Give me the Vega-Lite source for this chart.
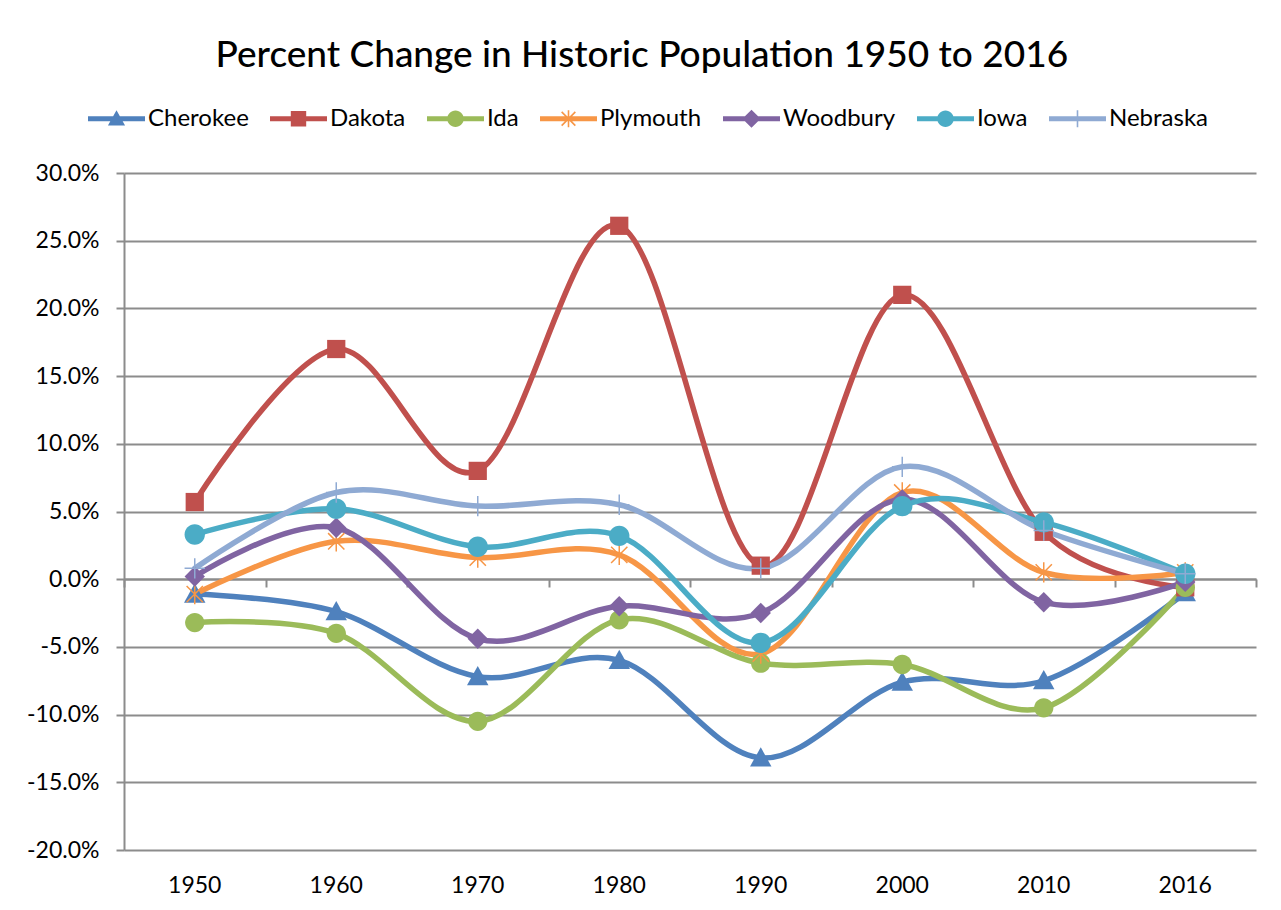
{
  "$schema": "https://vega.github.io/schema/vega-lite/v6.json",
  "width": 1132,
  "height": 677,
  "autosize": {"type": "none"},
  "padding": {"left": 124, "top": 173, "right": 25, "bottom": 60},
  "background": "white",
  "title": {"text": "Percent Change in Historic Population 1950 to 2016", "font": "Lato", "fontSize": 37, "fontWeight": 500, "color": "#000000", "anchor": "middle", "frame": "bounds", "offset": 15},
  "config": {"view": {"stroke": null}},
  "data": {"values": [
    {"year": "1950", "series": "Cherokee", "pct": -0.011},
    {"year": "1960", "series": "Cherokee", "pct": -0.024},
    {"year": "1970", "series": "Cherokee", "pct": -0.072},
    {"year": "1980", "series": "Cherokee", "pct": -0.060},
    {"year": "1990", "series": "Cherokee", "pct": -0.132},
    {"year": "2000", "series": "Cherokee", "pct": -0.076},
    {"year": "2010", "series": "Cherokee", "pct": -0.075},
    {"year": "2016", "series": "Cherokee", "pct": -0.010},
    {"year": "1950", "series": "Dakota", "pct": 0.057},
    {"year": "1960", "series": "Dakota", "pct": 0.170},
    {"year": "1970", "series": "Dakota", "pct": 0.080},
    {"year": "1980", "series": "Dakota", "pct": 0.261},
    {"year": "1990", "series": "Dakota", "pct": 0.010},
    {"year": "2000", "series": "Dakota", "pct": 0.210},
    {"year": "2010", "series": "Dakota", "pct": 0.035},
    {"year": "2016", "series": "Dakota", "pct": -0.006},
    {"year": "1950", "series": "Ida", "pct": -0.032},
    {"year": "1960", "series": "Ida", "pct": -0.040},
    {"year": "1970", "series": "Ida", "pct": -0.105},
    {"year": "1980", "series": "Ida", "pct": -0.030},
    {"year": "1990", "series": "Ida", "pct": -0.062},
    {"year": "2000", "series": "Ida", "pct": -0.063},
    {"year": "2010", "series": "Ida", "pct": -0.095},
    {"year": "2016", "series": "Ida", "pct": -0.006},
    {"year": "1950", "series": "Plymouth", "pct": -0.011},
    {"year": "1960", "series": "Plymouth", "pct": 0.028},
    {"year": "1970", "series": "Plymouth", "pct": 0.016},
    {"year": "1980", "series": "Plymouth", "pct": 0.018},
    {"year": "1990", "series": "Plymouth", "pct": -0.055},
    {"year": "2000", "series": "Plymouth", "pct": 0.064},
    {"year": "2010", "series": "Plymouth", "pct": 0.005},
    {"year": "2016", "series": "Plymouth", "pct": 0.005},
    {"year": "1950", "series": "Woodbury", "pct": 0.002},
    {"year": "1960", "series": "Woodbury", "pct": 0.038},
    {"year": "1970", "series": "Woodbury", "pct": -0.044},
    {"year": "1980", "series": "Woodbury", "pct": -0.020},
    {"year": "1990", "series": "Woodbury", "pct": -0.025},
    {"year": "2000", "series": "Woodbury", "pct": 0.059},
    {"year": "2010", "series": "Woodbury", "pct": -0.017},
    {"year": "2016", "series": "Woodbury", "pct": -0.002},
    {"year": "1950", "series": "Iowa", "pct": 0.033},
    {"year": "1960", "series": "Iowa", "pct": 0.052},
    {"year": "1970", "series": "Iowa", "pct": 0.024},
    {"year": "1980", "series": "Iowa", "pct": 0.032},
    {"year": "1990", "series": "Iowa", "pct": -0.047},
    {"year": "2000", "series": "Iowa", "pct": 0.054},
    {"year": "2010", "series": "Iowa", "pct": 0.042},
    {"year": "2016", "series": "Iowa", "pct": 0.004},
    {"year": "1950", "series": "Nebraska", "pct": 0.008},
    {"year": "1960", "series": "Nebraska", "pct": 0.064},
    {"year": "1970", "series": "Nebraska", "pct": 0.054},
    {"year": "1980", "series": "Nebraska", "pct": 0.055},
    {"year": "1990", "series": "Nebraska", "pct": 0.008},
    {"year": "2000", "series": "Nebraska", "pct": 0.083},
    {"year": "2010", "series": "Nebraska", "pct": 0.036},
    {"year": "2016", "series": "Nebraska", "pct": 0.004}
  ]},
  "resolve": {"scale": {"color": "independent", "shape": "independent"}, "axis": {"x": "independent"}},
  "layer": [
    {
      "mark": {"type": "line", "interpolate": "cardinal", "strokeWidth": 5.5, "strokeCap": "round", "strokeJoin": "round"},
      "encoding": {
        "x": {"field": "year", "type": "ordinal", "sort": ["1950","1960","1970","1980","1990","2000","2010","2016"],
              "scale": {"type": "band", "paddingInner": 0, "paddingOuter": 0},
              "axis": {"orient": "bottom", "title": null, "ticks": false, "tickSize": 0, "domain": false, "grid": false, "labelAngle": 0, "labelPadding": 24, "labelFont": "Lato", "labelFontSize": 23, "labelColor": "#000000"}},
        "y": {"field": "pct", "type": "quantitative", "scale": {"domain": [-0.2, 0.3], "nice": false, "zero": false},
              "axis": {"title": null, "values": [-0.2,-0.15,-0.1,-0.05,0,0.05,0.1,0.15,0.2,0.25,0.3],
                       "labelExpr": "replace(format(datum.value, '.1%'), '\u2212', '-')",
                       "grid": true, "gridColor": "#8C8C8C", "gridWidth": 2,
                       "domainColor": "#8C8C8C", "domainWidth": 2,
                       "tickColor": "#8C8C8C", "tickWidth": 2, "tickSize": 8,
                       "labelPadding": 17, "labelFont": "Lato", "labelFontSize": 23, "labelColor": "#000000"}},
        "color": {"field": "series", "type": "nominal",
                  "scale": {"domain": ["Cherokee","Dakota","Ida","Plymouth","Woodbury","Iowa","Nebraska"],
                            "range": ["#4F81BD","#C0504D","#9BBB59","#F79646","#8064A2","#4BACC6","#8FAAD3"]},
                  "legend": null}
      }
    },
    {
      "mark": {"type": "point", "filled": true, "size": 460, "opacity": 1, "strokeWidth": 0},
      "encoding": {
        "x": {"field": "year", "type": "ordinal", "sort": ["1950","1960","1970","1980","1990","2000","2010","2016"],
              "axis": {"orient": "bottom", "title": null, "labels": false, "ticks": true, "tickBand": "extent", "tickSize": 8, "tickWidth": 2, "tickColor": "#8C8C8C", "domain": true, "domainColor": "#8C8C8C", "domainWidth": 2, "grid": false, "offset": -271}},
        "y": {"field": "pct", "type": "quantitative",
              "axis": {"title": null, "values": [-0.2,-0.15,-0.1,-0.05,0,0.05,0.1,0.15,0.2,0.25,0.3],
                       "labelExpr": "replace(format(datum.value, '.1%'), '\u2212', '-')",
                       "grid": true, "gridColor": "#8C8C8C", "gridWidth": 2,
                       "domainColor": "#8C8C8C", "domainWidth": 2,
                       "tickColor": "#8C8C8C", "tickWidth": 2, "tickSize": 8,
                       "labelPadding": 17, "labelFont": "Lato", "labelFontSize": 23, "labelColor": "#000000"}},
        "color": {"field": "series", "type": "nominal",
                  "scale": {"domain": ["Cherokee","Dakota","Ida","Plymouth","Woodbury","Iowa","Nebraska"],
                            "range": ["#4F81BD","#C0504D","#9BBB59","#F79646","#8064A2","#4BACC6","#8FAAD3"]},
                  "legend": null},
        "shape": {"field": "series", "type": "nominal",
                  "scale": {"domain": ["Cherokee","Dakota","Ida","Plymouth","Woodbury","Iowa","Nebraska"],
                            "range": [
                              "M0,-1L1,0.8L-1,0.8Z",
                              "M-0.85,-0.85H0.85V0.85H-0.85Z",
                              "M-0.9,0A0.9,0.9,0,1,1,0.9,0A0.9,0.9,0,1,1,-0.9,0Z",
                              "M-0.07,-0.95H0.07V0.95H-0.07Z M-0.71,-0.81L0.81,0.71L0.71,0.81L-0.81,-0.71Z M0.71,-0.81L0.81,-0.71L-0.71,0.81L-0.81,0.71Z",
                              "M0,-0.95L0.95,0L0,0.95L-0.95,0Z",
                              "M-0.95,0A0.95,0.95,0,1,1,0.95,0A0.95,0.95,0,1,1,-0.95,0Z",
                              "M-0.07,-0.95H0.07V0.95H-0.07Z M-0.95,-0.07H0.95V0.07H-0.95Z"
                            ]},
                  "legend": null}
      }
    },
    {
      "mark": {"type": "point", "filled": true, "opacity": 0},
      "encoding": {
        "x": {"field": "year", "type": "ordinal", "sort": ["1950","1960","1970","1980","1990","2000","2010","2016"], "axis": null},
        "y": {"field": "pct", "type": "quantitative",
              "axis": {"title": null, "values": [-0.2,-0.15,-0.1,-0.05,0,0.05,0.1,0.15,0.2,0.25,0.3],
                       "labelExpr": "replace(format(datum.value, '.1%'), '\u2212', '-')",
                       "grid": true, "gridColor": "#8C8C8C", "gridWidth": 2,
                       "domainColor": "#8C8C8C", "domainWidth": 2,
                       "tickColor": "#8C8C8C", "tickWidth": 2, "tickSize": 8,
                       "labelPadding": 17, "labelFont": "Lato", "labelFontSize": 23, "labelColor": "#000000"}},
        "color": {"field": "series", "type": "nominal",
                  "scale": {"domain": ["Cherokee","Dakota","Ida","Plymouth","Woodbury","Iowa","Nebraska"],
                            "range": ["#4F81BD","#C0504D","#9BBB59","#F79646","#8064A2","#4BACC6","#8FAAD3"]},
                  "legend": {"title": null, "orient": "none", "legendX": -36, "legendY": -83, "direction": "horizontal",
                             "labelFont": "Lato", "labelFontSize": 24, "labelColor": "#000000", "labelOffset": 3,
                             "symbolSize": 3249, "symbolStrokeWidth": 0, "columnPadding": 21,
                             "encode": {"symbols": {"update": {"opacity": {"value": 1}}}}}},
        "shape": {"field": "series", "type": "nominal",
                  "scale": {"domain": ["Cherokee","Dakota","Ida","Plymouth","Woodbury","Iowa","Nebraska"],
                            "range": [
                              "M-1,-0.088H1V0.088H-1Z M0,-0.3L0.3,0.24L-0.3,0.24Z",
                              "M-1,-0.088H1V0.088H-1Z M-0.27,-0.27H0.27V0.27H-0.27Z",
                              "M-1,-0.088H1V0.088H-1Z M-0.29,0A0.29,0.29,0,1,1,0.29,0A0.29,0.29,0,1,1,-0.29,0Z",
                              "M-1,-0.088H1V0.088H-1Z M-0.028,-0.3H0.028V0.3H-0.028Z M-0.22,-0.26L0.26,0.22L0.22,0.26L-0.26,-0.22Z M0.22,-0.26L0.26,-0.22L-0.22,0.26L-0.26,0.22Z",
                              "M-1,-0.088H1V0.088H-1Z M0,-0.32L0.32,0L0,0.32L-0.32,0Z",
                              "M-1,-0.088H1V0.088H-1Z M-0.29,0A0.29,0.29,0,1,1,0.29,0A0.29,0.29,0,1,1,-0.29,0Z",
                              "M-1,-0.088H1V0.088H-1Z M-0.028,-0.3H0.028V0.3H-0.028Z"
                            ]},
                  "legend": {"title": null, "orient": "none", "legendX": -36, "legendY": -83, "direction": "horizontal",
                             "labelFont": "Lato", "labelFontSize": 24, "labelColor": "#000000", "labelOffset": 3,
                             "symbolSize": 3249, "symbolStrokeWidth": 0, "columnPadding": 21,
                             "encode": {"symbols": {"update": {"opacity": {"value": 1}}}}}}
      }
    }
  ]
}
